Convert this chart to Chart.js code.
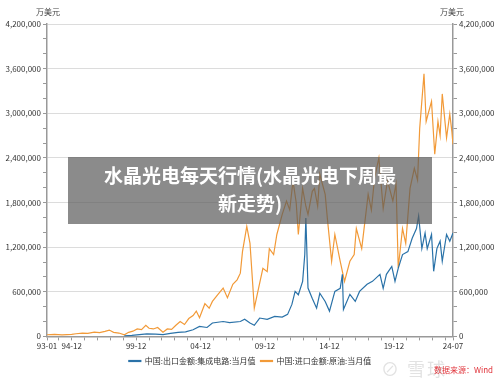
<!DOCTYPE html>
<html>
<head>
<meta charset="utf-8">
<script src="https://cdn.jsdelivr.net/npm/chart.js@4"></script>
<style>
  body { margin: 0; background: #fff; }
  #wrap { position: relative; width: 500px; height: 384px; font-family: "Noto Sans CJK SC", "Noto Sans", sans-serif; }
  #banner { position: absolute; left: 68px; top: 157px; width: 364px; height: 67px; background: rgba(90,90,90,0.7);
    color: #fff; font-weight: bold; font-size: 19px; line-height: 28px; text-align: center; padding-top: 4px; box-sizing: border-box; }
  #logo { position: absolute; left: 381px; top: 355px; font-size: 18px; color: #e2e2e2; letter-spacing: 2px; }
  #source { position: absolute; left: 434px; top: 364px; font-size: 8px; color: #e0333a; }
</style>
</head>
<body>
<div id="wrap">
  <canvas id="equationChart" width="500" height="384"></canvas>
  <div id="banner">水晶光电每天行情(水晶光电下周最<br>新走势)</div>
  <div id="logo">⊘ 雪球</div>
  <div id="source">数据来源：Wind</div>
</div>
<script>
const seriesNames = ['中国:出口金额:集成电路:当月值', '中国:进口金额:原油:当月值']
const unitLabel = '万美元'
const xTickLabels = { 0: '93-01', 23: '94-12', 83: '99-12', 143: '04-12', 203: '09-12', 263: '14-12', 323: '19-12', 378: '24-07' }

const icMonths = ['1999-01','1999-08','2000-03','2000-10','2001-06','2002-01','2002-08','2003-03','2003-10','2004-05','2004-11','2005-06','2005-11','2006-09','2007-03','2008-01','2008-05','2008-10','2009-02','2009-07','2010-02','2010-09','2011-04','2011-09','2012-01','2012-04','2012-07','2012-11','2013-01','2013-02','2013-04','2013-08','2013-12','2014-03','2014-08','2014-12','2015-05','2015-10','2015-12','2016-01','2016-07','2016-12','2017-04','2017-11','2018-04','2018-11','2019-02','2019-05','2019-10','2020-01','2020-04','2020-08','2021-01','2021-05','2021-09','2021-11','2022-02','2022-05','2022-07','2022-11','2023-01','2023-04','2023-07','2023-09','2024-01','2024-04','2024-07']
const icValues = [8000,15000,25000,35000,30000,25000,40000,55000,60000,90000,135000,120000,180000,200000,185000,200000,230000,180000,150000,247000,230000,270000,260000,296000,430000,605000,560000,740000,1100000,1590000,650000,510000,380000,580000,470000,340000,605000,646000,834000,363000,565000,470000,605000,700000,740000,834000,646000,834000,940000,740000,915000,1100000,1140000,1320000,1450000,1620000,1180000,1390000,1180000,1370000,875000,1180000,1280000,1010000,1370000,1280000,1390000]

const oilMonths = ['1993-01','1993-08','1994-03','1994-12','1995-04','1995-10','1996-03','1996-09','1997-02','1997-07','1997-11','1998-03','1998-08','1999-01','1999-05','1999-09','2000-01','2000-05','2000-09','2000-12','2001-04','2001-08','2002-01','2002-05','2002-09','2003-01','2003-05','2003-09','2004-01','2004-05','2004-08','2004-11','2005-04','2005-08','2005-11','2006-04','2006-09','2007-01','2007-06','2007-10','2008-01','2008-03','2008-07','2008-10','2009-01','2009-02','2009-06','2009-10','2010-02','2010-04','2010-08','2010-11','2011-04','2011-08','2011-11','2012-02','2012-05','2012-07','2012-11','2013-02','2013-04','2013-08','2013-10','2014-01','2014-03','2014-08','2014-10','2015-02','2015-05','2015-10','2016-02','2016-07','2016-11','2017-01','2017-06','2017-12','2018-03','2018-06','2018-10','2019-02','2019-06','2019-11','2020-02','2020-04','2020-08','2020-11','2021-03','2021-07','2021-10','2021-12','2022-04','2022-06','2022-08','2022-11','2023-02','2023-05','2023-07','2023-09','2024-01','2024-04','2024-06','2024-07']
const oilValues = [22000,26000,20000,28000,36000,45000,42000,58000,50000,68000,85000,55000,45000,22000,55000,70000,100000,90000,150000,110000,100000,120000,55000,100000,95000,150000,200000,160000,240000,280000,340000,250000,440000,380000,470000,560000,650000,520000,700000,760000,850000,1140000,1480000,1250000,600000,380000,650000,915000,870000,1180000,1100000,1370000,1640000,1820000,1700000,2090000,1800000,1370000,1990000,1750000,1640000,1950000,1990000,1750000,2180000,1910000,1590000,1010000,1370000,1010000,740000,1010000,1100000,1450000,1180000,1910000,1700000,2130000,2400000,1720000,2090000,1820000,2050000,920000,1450000,1250000,1990000,2260000,2100000,2800000,3530000,2890000,3000000,3160000,2450000,2890000,2700000,3260000,2670000,2990000,2750000,2580000]

const monthIndex = (s) => {
  const [y, m] = s.split('-').map(Number)
  return (y - 1993) * 12 + (m - 1)
}
const toPoints = (months, values) => months.map((m, i) => ({ x: monthIndex(m), y: values[i] }))

const tickFont = { family: '"Noto Sans CJK SC", "Noto Sans", sans-serif', size: 8 }
const fmt = (v) => v % 600000 === 0 ? v.toLocaleString('en-US') : ''

const yAxis = (position) => ({
  position: position,
  min: 0,
  max: 4200000,
  afterFit: (scale) => { scale.width = 47 },
  ticks: { stepSize: 200000, autoSkip: false, callback: fmt, font: tickFont, color: '#333', padding: 2 },
  border: { display: true, color: '#999', width: 1.5 },
  grid: {
    drawOnChartArea: position === 'left',
    color: (c) => c.tick && c.tick.value % 600000 === 0 && c.tick.value > 0 ? '#dcdcdc' : 'rgba(0,0,0,0)',
    tickColor: '#999',
    tickLength: 4,
    lineWidth: 1
  }
})

const unitPlugin = {
  id: 'units',
  afterDraw: (chart) => {
    const ctx = chart.ctx
    ctx.save()
    ctx.font = '8px "Noto Sans CJK SC", sans-serif'
    ctx.fillStyle = '#444'
    ctx.textAlign = 'center'
    ctx.textBaseline = 'middle'
    ctx.fillText(unitLabel, 48, 12)
    ctx.fillText(unitLabel, 452, 12)
    ctx.restore()
  }
}

const ctx = document.getElementById('equationChart').getContext('2d')
const chart = new Chart(ctx, {
  type: 'line',
  data: {
    datasets: [
      { label: seriesNames[0], data: toPoints(icMonths, icValues), borderColor: '#2a72a8', backgroundColor: '#2a72a8', borderWidth: 1.2, pointRadius: 0, yAxisID: 'y' },
      { label: seriesNames[1], data: toPoints(oilMonths, oilValues), borderColor: '#f29a38', backgroundColor: '#f29a38', borderWidth: 1.2, pointRadius: 0, yAxisID: 'y1' }
    ]
  },
  options: {
    responsive: false,
    animation: false,
    layout: { padding: { top: 24, bottom: 9, left: 0, right: 0 } },
    scales: {
      x: {
        type: 'linear',
        min: 0,
        max: 378,
        afterBuildTicks: (scale) => {
          const t = [{ value: 0 }]
          for (let v = 11; v < 378; v += 12) t.push({ value: v })
          t.push({ value: 378 })
          scale.ticks = t
        },
        ticks: { autoSkip: false, maxRotation: 0, font: tickFont, color: '#333', padding: 1, callback: (v) => xTickLabels[v] || '' },
        border: { display: true, color: '#999', width: 1.5 },
        grid: { drawOnChartArea: false, tickColor: '#999', tickLength: 4 }
      },
      y: yAxis('left'),
      y1: yAxis('right')
    },
    plugins: {
      legend: {
        position: 'bottom',
        labels: { boxWidth: 12, boxHeight: 1, font: tickFont, color: '#333', padding: 5 }
      },
      tooltip: { enabled: false }
    }
  },
  plugins: [unitPlugin]
})
</script>
</body>
</html>
